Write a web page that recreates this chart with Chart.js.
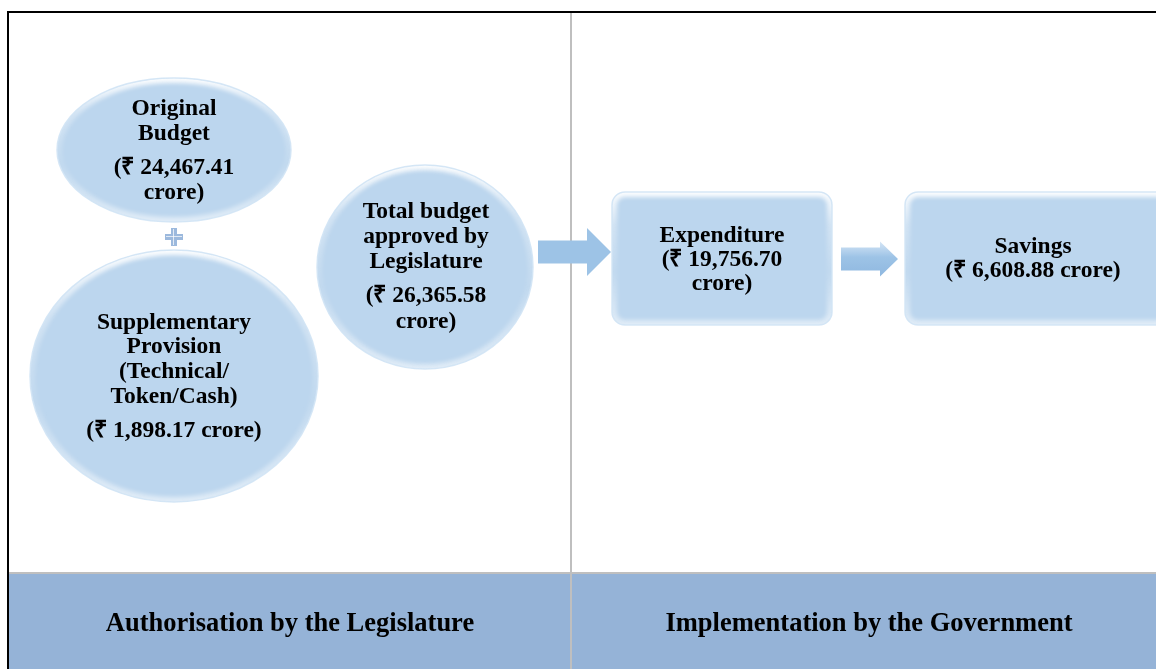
<!DOCTYPE html>
<html lang="en">
<head>
  <meta charset="UTF-8">
  <title>Budget Flow</title>
  <script src="https://cdn.jsdelivr.net/npm/chart.js"></script>
  <style>
    body {
      margin: 0;
      background: #fff;
    }
    #wrap {
      width: 1156px;
      height: 669px;
    }
  </style>
</head>
<body>
  <div id="wrap"><canvas id="flowChart" width="1156" height="669"></canvas></div>

  <script>
    // chart content
    const nodeTitles = [
      ["Original", "Budget"],
      ["Supplementary", "Provision", "(Technical/", "Token/Cash)"],
      ["Total budget", "approved by", "Legislature"],
      ["Expenditure"],
      ["Savings"]
    ];
    const nodeAmounts = ["24,467.41", "1,898.17", "26,365.58", "19,756.70", "6,608.88"];
    const stageLabels = ["Authorisation by the Legislature", "Implementation by the Government"];

    // layout in diagram units (x: 0..1156, y: 0..669 from top)
    const layout = [
      { kind: "ellipse", cx: 174, cy: 150, rx: 117, ry: 72, tx: 174, titleY: [115, 140], amtY: [174, 199] },
      { kind: "ellipse", cx: 174, cy: 376, rx: 144, ry: 126, tx: 174, titleY: [329, 353, 378, 403], amtY: [437] },
      { kind: "ellipse", cx: 425, cy: 267, rx: 108, ry: 102, tx: 426, titleY: [218, 243, 268], amtY: [302, 328] },
      { kind: "rect", x0: 612, y0: 192, x1: 832, y1: 325, r: 13, tx: 722, titleY: [242], amtY: [266, 290] },
      { kind: "rect", x0: 905, y0: 192, x1: 1170, y1: 325, r: 13, tx: 1033, titleY: [253], amtY: [277] }
    ];
    const arrows = [
      { x0: 538, x1: 611, cy: 252, shaft: 23, head: 48, headLen: 24, flat: true },
      { x0: 841, x1: 898, cy: 259, shaft: 23, head: 35, headLen: 18, flat: false }
    ];
    const stageX = [290, 869];

    const FILL = "#bcd6ee";
    const FONT = '"Liberation Serif", "Times New Roman", serif';

    function shapePath(c, s, sx, sy) {
      c.beginPath();
      if (s.kind === "ellipse") {
        const cx = sx(s.cx), cy = sy(s.cy);
        c.ellipse(cx, cy, sx(s.cx + s.rx) - cx, sy(s.cy + s.ry) - cy, 0, 0, Math.PI * 2);
      } else {
        c.roundRect(sx(s.x0), sy(s.y0), sx(s.x1) - sx(s.x0), sy(s.y1) - sy(s.y0), s.r);
      }
    }

    function drawShape(c, s, sx, sy) {
      const top = s.kind === "ellipse" ? sy(s.cy - s.ry) : sy(s.y0);
      const bot = s.kind === "ellipse" ? sy(s.cy + s.ry) : sy(s.y1);
      shapePath(c, s, sx, sy);
      c.fillStyle = FILL;
      c.fill();
      // glossy rim
      c.save();
      shapePath(c, s, sx, sy);
      c.clip();
      const g = c.createLinearGradient(0, top, 0, bot);
      g.addColorStop(0, "rgba(255,255,255,0.95)");
      g.addColorStop(0.25, "rgba(255,255,255,0.35)");
      g.addColorStop(0.6, "rgba(255,255,255,0.1)");
      g.addColorStop(1, "rgba(255,255,255,0.55)");
      c.strokeStyle = g;
      c.lineWidth = 10;
      c.filter = "blur(2px)";
      shapePath(c, s, sx, sy);
      c.stroke();
      c.restore();
      shapePath(c, s, sx, sy);
      c.strokeStyle = "rgba(210,228,245,0.9)";
      c.lineWidth = 1.5;
      c.stroke();
    }

    function drawArrow(c, a, sx, sy) {
      const x0 = sx(a.x0), x1 = sx(a.x1), cy = sy(a.cy);
      const hb = x1 - a.headLen;
      c.beginPath();
      c.moveTo(x0, cy - a.shaft / 2);
      c.lineTo(hb, cy - a.shaft / 2);
      c.lineTo(hb, cy - a.head / 2);
      c.lineTo(x1, cy);
      c.lineTo(hb, cy + a.head / 2);
      c.lineTo(hb, cy + a.shaft / 2);
      c.lineTo(x0, cy + a.shaft / 2);
      c.closePath();
      if (a.flat) {
        c.fillStyle = "#9dc3e6";
      } else {
        const g = c.createLinearGradient(0, cy - a.head / 2, 0, cy + a.head / 2);
        g.addColorStop(0, "#d6e6f6");
        g.addColorStop(0.45, "#9dc3e6");
        g.addColorStop(1, "#8fb8e0");
        c.fillStyle = g;
      }
      c.fill();
    }

    function drawPlus(c, x, y) {
      c.fillStyle = "#9cb9dd";
      c.fillRect(x - 9, y - 3, 18, 6);
      c.fillRect(x - 3, y - 9, 6, 18);
      c.fillStyle = "rgba(255,255,255,0.7)";
      c.fillRect(x - 8, y - 1, 16, 1);
      c.fillRect(x - 1, y - 8, 1, 16);
    }

    const diagramPlugin = {
      id: "diagram",
      afterDraw(chart) {
        const c = chart.ctx;
        const xs = chart.scales.x, ys = chart.scales.y;
        const sx = v => xs.getPixelForValue(v);
        const sy = v => ys.getPixelForValue(v);
        c.save();

        // stage band and frame
        c.fillStyle = "#95b3d7";
        c.fillRect(sx(9), sy(574), sx(1156) - sx(9), sy(669) - sy(574));
        c.fillStyle = "#bfbfbf";
        c.fillRect(sx(9), sy(572), sx(1156) - sx(9), 2);
        c.fillRect(sx(570), sy(13), 2, sy(669) - sy(13));
        c.fillStyle = "#000";
        c.fillRect(sx(7), sy(11), sx(1156) - sx(7), 2);
        c.fillRect(sx(7), sy(11), 2, sy(669) - sy(11));

        layout.forEach(s => drawShape(c, s, sx, sy));
        arrows.forEach(a => drawArrow(c, a, sx, sy));
        drawPlus(c, sx(174), sy(237));

        // node text
        c.fillStyle = "#000";
        c.textAlign = "center";
        c.textBaseline = "alphabetic";
        c.font = "bold 23.5px " + FONT;
        layout.forEach((s, i) => {
          nodeTitles[i].forEach((t, k) => c.fillText(t, sx(s.tx), sy(s.titleY[k])));
          const amt = s.amtY.length > 1
            ? ["(\u20b9 " + nodeAmounts[i], "crore)"]
            : ["(\u20b9 " + nodeAmounts[i] + " crore)"];
          amt.forEach((t, k) => c.fillText(t, sx(s.tx), sy(s.amtY[k])));
        });

        c.font = "bold 26.5px " + FONT;
        stageLabels.forEach((t, i) => c.fillText(t, sx(stageX[i]), sy(631)));
        c.restore();
      }
    };

    new Chart(document.getElementById("flowChart").getContext("2d"), {
      type: "scatter",
      data: { datasets: [{ data: [], pointRadius: 0 }] },
      options: {
        responsive: false,
        animation: false,
        events: [],
        layout: { padding: 0 },
        plugins: { legend: { display: false }, tooltip: { enabled: false } },
        scales: {
          x: { type: "linear", min: 0, max: 1156, display: false },
          y: { type: "linear", min: 0, max: 669, reverse: true, display: false }
        }
      },
      plugins: [diagramPlugin]
    });
  </script>
</body>
</html>
